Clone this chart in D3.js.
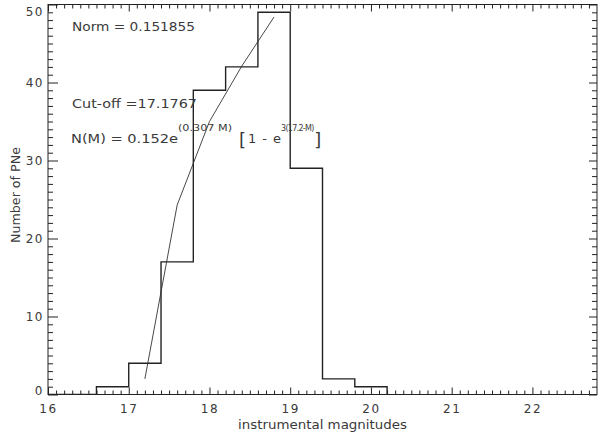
<!DOCTYPE html>
<html><head><meta charset="utf-8">
<script src="https://cdn.jsdelivr.net/npm/d3@7/dist/d3.min.js"></script>
<style>
body{margin:0;background:#fff;}
svg text{font-family:"DejaVu Sans",sans-serif;fill:#3a3a3a;}
</style></head>
<body><svg id="c" width="600" height="437"></svg>
<script>
// Histogram: lower bin edges (width 0.4) and counts
const binLo   = [15.8, 16.2, 16.6, 17.0, 17.4, 17.8, 18.2, 18.6, 19.0, 19.4, 19.8];
const counts  = [0,    0,    1,    4,    17,   39,   42,   49,   29,   2,    1];
const binWidth = 0.4;
// Fit curve points
const fitM = [17.2, 17.6, 18.0, 18.4, 18.8];
const fitN = [2.0, 24.3, 35.0, 42.1, 48.4];
// Ticks
const xTickLabels = [16, 17, 18, 19, 20, 21, 22];
const yTickLabels = [0, 10, 20, 30, 40, 50];
const xDomain = [16, 22.8];
const yDomain = [0, 50];

const L = 48, R = 597, T = 4.5, B = 394.5;
const svg = d3.select("#c");
const x = d3.scaleLinear().domain(xDomain).range([L, R]);
const y = d3.scaleLinear().domain(yDomain).range([B, T]);

const xMinor = d3.range(161, 228).map(v => v / 10).filter(v => !xTickLabels.includes(v));
const yMinor = d3.range(0, 51).filter(v => !yTickLabels.includes(v));

function style(g){ g.select(".domain").remove(); g.selectAll("line").attr("stroke","#222").attr("stroke-width",1); g.selectAll("text").style("font-size","12px").style("letter-spacing","1.5px").attr("fill","#3a3a3a"); }

// bottom
svg.append("g").attr("transform",`translate(0,${B})`)
  .call(d3.axisBottom(x).tickValues(xTickLabels).tickSize(-7).tickPadding(10).tickFormat(d3.format("d"))).call(style);
svg.append("g").attr("transform",`translate(0,${B})`)
  .call(d3.axisBottom(x).tickValues(xMinor).tickSize(-4).tickFormat("")).call(style);
// top
svg.append("g").attr("transform",`translate(0,${T})`)
  .call(d3.axisTop(x).tickValues(xTickLabels).tickSize(-7).tickFormat("")).call(style);
svg.append("g").attr("transform",`translate(0,${T})`)
  .call(d3.axisTop(x).tickValues(xMinor).tickSize(-4).tickFormat("")).call(style);
// left
const yAx = svg.append("g").attr("transform",`translate(${L},0)`)
  .call(d3.axisLeft(y).tickValues(yTickLabels).tickSize(-10).tickPadding(4).tickFormat(d3.format("d"))).call(style);
// keep end labels inside the window, as in the reference
yAx.selectAll(".tick text").attr("dy", d => d === yDomain[1] ? "0.95em" : (d === yDomain[0] ? "0.0em" : "0.32em"));
svg.append("g").attr("transform",`translate(${L},0)`)
  .call(d3.axisLeft(y).tickValues(yMinor).tickSize(-5).tickFormat("")).call(style);
// right
svg.append("g").attr("transform",`translate(${R},0)`)
  .call(d3.axisRight(y).tickValues(yTickLabels).tickSize(-8).tickFormat("")).call(style);
svg.append("g").attr("transform",`translate(${R},0)`)
  .call(d3.axisRight(y).tickValues(yMinor).tickSize(-5).tickFormat("")).call(style);

// frame
svg.append("rect").attr("x",L).attr("y",T).attr("width",R-L).attr("height",B-T)
  .attr("fill","none").attr("stroke","#222").attr("stroke-width",1);

// clip
svg.append("clipPath").attr("id","clip").append("rect").attr("x",L).attr("y",T).attr("width",R-L).attr("height",B-T);

// histogram step outline
const pts = [];
binLo.forEach((lo,i)=>{ pts.push([lo, counts[i]]); pts.push([lo+binWidth, counts[i]]); });
pts.unshift([binLo[0],0]); pts.push([binLo[binLo.length-1]+binWidth,0]);
svg.append("path").attr("clip-path","url(#clip)")
  .attr("d", d3.line().x(d=>x(d[0])).y(d=>y(d[1]))(pts))
  .attr("fill","none").attr("stroke","#222").attr("stroke-width",1.4);

// fit curve
svg.append("path").attr("clip-path","url(#clip)")
  .attr("d", d3.line().x((d,i)=>x(fitM[i])).y((d,i)=>y(fitN[i]))(fitM))
  .attr("fill","none").attr("stroke","#333").attr("stroke-width",0.9);

// annotations
const ann = svg.append("g").style("font-size","13px");
ann.append("text").attr("x",72).attr("y",31).attr("textLength",123).attr("lengthAdjust","spacingAndGlyphs").text("Norm = 0.151855");
ann.append("text").attr("x",72).attr("y",108).attr("textLength",125).attr("lengthAdjust","spacingAndGlyphs").text("Cut-off =17.1767");
ann.append("text").attr("x",71).attr("y",143).attr("textLength",107).attr("lengthAdjust","spacingAndGlyphs").text("N(M) = 0.152e");
ann.append("text").attr("x",178).attr("y",131).style("font-size","9.5px").attr("textLength",54).attr("lengthAdjust","spacingAndGlyphs").text("(0.307 M)");
ann.append("text").attr("x",239).attr("y",146).style("font-size","18px").text("[");
ann.append("text").attr("x",248).attr("y",143).attr("textLength",33).attr("lengthAdjust","spacing").text("1 - e");
const sup2 = ann.append("text").attr("x",281).attr("y",131).style("font-size","8px").style("letter-spacing","-0.7px").text("3(17.2-M)");
const supEnd = 281 + sup2.node().getComputedTextLength();
ann.append("text").attr("x",supEnd + 0.5).attr("y",146).style("font-size","18px").text("]");

// axis titles
svg.append("text").attr("x",322.5).attr("y",429).attr("text-anchor","middle").style("font-size","12.5px")
  .attr("textLength",169).attr("lengthAdjust","spacingAndGlyphs").text("instrumental magnitudes");
svg.append("text").attr("transform","translate(20,195) rotate(-90)").attr("text-anchor","middle").style("font-size","12.5px")
  .attr("textLength",96).attr("lengthAdjust","spacingAndGlyphs").text("Number of PNe");
</script></body></html>
